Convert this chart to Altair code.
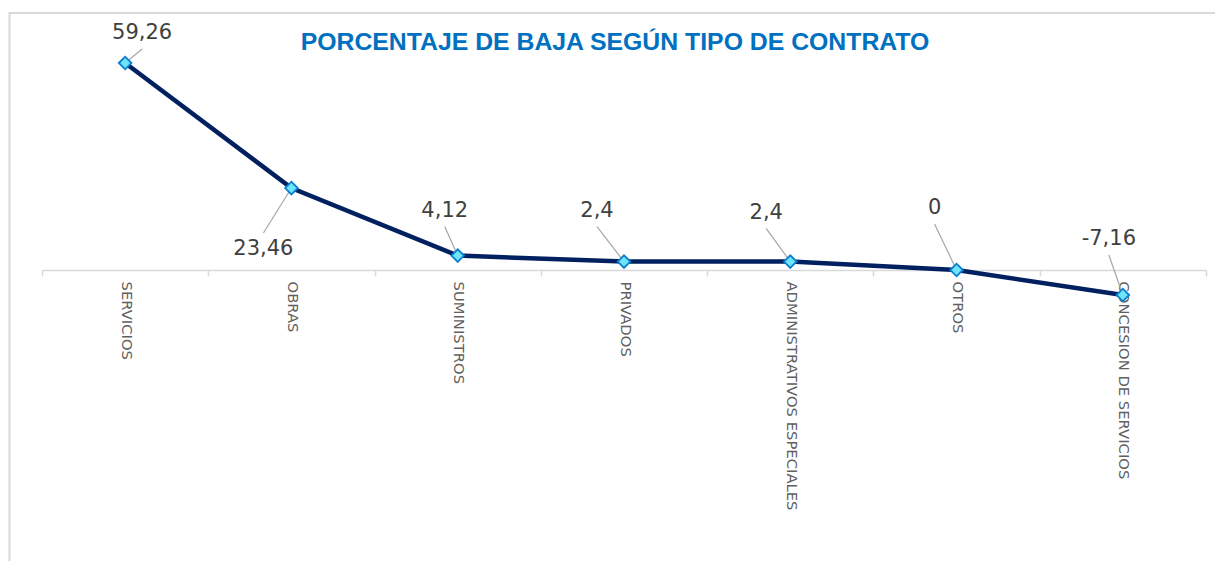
import altair as alt
import pandas as pd

# ---------------- data ----------------
categories = ["SERVICIOS", "OBRAS", "SUMINISTROS", "PRIVADOS",
              "ADMINISTRATIVOS ESPECIALES", "OTROS", "CONCESION DE SERVICIOS"]
values = [59.26, 23.46, 4.12, 2.4, 2.4, 0, -7.16]
title_text = "PORCENTAJE DE BAJA SEGÚN TIPO DE CONTRATO"

# ---------------- layout (pixels) ----------------
label_dx = [17, -28, -13, -27, -24, -22, -14]    # data-label centre offset from point
label_dy = [-30, 61, -45, -51, -49, -62, -56]
LEADER_GAP = 16                                  # gap between label centre and leader end

PLOT_W = 1205
PLOT_H = 258
X_RANGE = [32, 1196]
Y_DOMAIN = [0, 73.86]
px_per_idx = (X_RANGE[1] - X_RANGE[0]) / len(categories)
px_per_unit = PLOT_H / (Y_DOMAIN[1] - Y_DOMAIN[0])

rows = []
for i, (c, v) in enumerate(zip(categories, values)):
    dx, dy = label_dx[i], label_dy[i]
    sgn = 1 if dy > 0 else -1
    rows.append({
        "idx": i,
        "cat": c,
        "value": v,
        "label": f"{v:g}".replace(".", ","),
        "lx": i + dx / px_per_idx,
        "ly": v - dy / px_per_unit,
        "ey": v - (dy - sgn * LEADER_GAP) / px_per_unit,
    })
df = pd.DataFrame(rows)

FONT = "DejaVu Sans"
GRID = "#D9D9D9"

label_array = "[" + ",".join(f"'{c}'" for c in categories) + "]"

xscale = alt.Scale(domain=[-0.5, len(categories) - 0.5], range=X_RANGE, nice=False, zero=False)
yscale = alt.Scale(domain=Y_DOMAIN, nice=False, zero=False)

x_axis = alt.Axis(
    values=[i - 0.5 for i in range(len(categories) + 1)],
    labelExpr=f"{label_array}[datum.value + 0.5] || ''",
    labelAngle=90, labelAlign="left", labelBaseline="middle",
    labelOffset=px_per_idx / 2, labelPadding=5, labelLimit=0,
    labelFont=FONT, labelFontSize=14.8, labelColor="#606060",
    labelOverlap=False, labelFlush=False,
    tickSize=6, tickColor=GRID, tickWidth=1.5,
    domainColor=GRID, domainWidth=1.5,
    grid=False, title=None,
)

base = alt.Chart(df)

line = base.mark_line(color="#002060", strokeWidth=4.5).encode(
    x=alt.X("idx:Q", scale=xscale, axis=x_axis),
    y=alt.Y("value:Q", scale=yscale, axis=None),
)

leaders = base.mark_rule(color="#A6A6A6", strokeWidth=1.2).encode(
    x=alt.X("idx:Q", scale=xscale),
    y=alt.Y("value:Q", scale=yscale),
    x2="lx:Q",
    y2="ey:Q",
)

points = base.mark_point(shape="diamond", filled=True, fill="#6FE3F7",
                         stroke="#0A7FD0", strokeWidth=1.8, size=160,
                         opacity=1).encode(
    x=alt.X("idx:Q", scale=xscale),
    y=alt.Y("value:Q", scale=yscale),
)

labels = base.mark_text(font=FONT, fontSize=21, color="#404040",
                        align="center", baseline="middle").encode(
    x=alt.X("lx:Q", scale=xscale),
    y=alt.Y("ly:Q", scale=yscale),
    text="label:N",
)

one = alt.Chart(pd.DataFrame({"t": [title_text]}))

frame = one.mark_rect(fillOpacity=0, stroke=GRID, strokeWidth=2).encode(
    x=alt.value(-0.5), x2=alt.value(1215), y=alt.value(1), y2=alt.value(600),
)

title = one.mark_text(font="Liberation Sans", fontSize=24.8, fontWeight="bold",
                      color="#0070C0", align="center", baseline="alphabetic").encode(
    x=alt.value(605), y=alt.value(38), text="t:N",
)

chart = alt.layer(frame, title, line, leaders, points, labels).properties(
    width=PLOT_W, height=PLOT_H,
    autosize=alt.AutoSizeParams(type="none"),
    padding={"left": 2, "top": 4, "right": 0, "bottom": 291},
    background="white",
).configure_view(stroke=None)

chart.save("out.html", embed_options={"renderer": "svg", "actions": False})
